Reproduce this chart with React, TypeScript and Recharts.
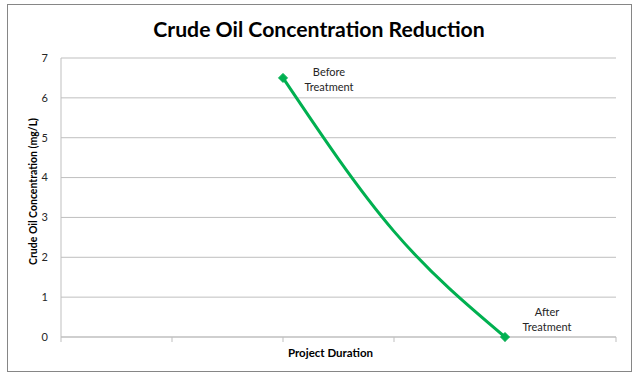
import { LineChart, Line, XAxis, YAxis, CartesianGrid, LabelList, Label } from "recharts";

// six evenly spaced periods on the duration axis; only three carry values
const periods = ["P1", "P2", "P3", "P4", "P5", "P6"];
const concentration = [null, null, 6.5, 2.65, 0, null];
const pointNotes = ["", "", "Before\nTreatment", "", "After\nTreatment", ""];
const hasMarker = [false, false, true, false, true, false];
const yTicks = [0, 1, 2, 3, 4, 5, 6, 7];

const data = periods.map((p, i) => ({
  period: p,
  conc: concentration[i],
  note: pointNotes[i],
  marker: hasMarker[i],
}));

const FONT = "Lato, 'Open Sans', sans-serif";
const GREEN = "#00b050";
const GRID = "#bfbfbf";

const Diamond = (props: any) => {
  const { cx, cy, index, payload } = props;
  if (!payload || !payload.marker || cx == null || cy == null) return <g key={`d-${index}`} />;
  const s = 4.5;
  return (
    <polygon
      key={`d-${index}`}
      points={`${cx},${cy - s} ${cx + s},${cy} ${cx},${cy + s} ${cx - s},${cy}`}
      fill={GREEN}
      stroke={GREEN}
    />
  );
};

const NoteLabel = (props: any) => {
  const { x, y, value, index } = props;
  if (!value || x == null || y == null) return null;
  const lines = String(value).split("\n");
  // Before sits beside the marker, After sits above it
  const dx = index === 2 ? 46 : 42;
  const dy = index === 2 ? -2 : -21;
  return (
    <text x={x + dx} y={y + dy} textAnchor="middle" fontFamily={FONT} fontSize={11} fill="#262626">
      {lines.map((l, i) => (
        <tspan key={i} x={x + dx} dy={i === 0 ? 0 : 15}>
          {l}
        </tspan>
      ))}
    </text>
  );
};

export default function App() {
  return (
    <div style={{ position: "absolute", left: 0, top: 0, width: 642, height: 379, background: "#fff" }}>
      <div
        style={{
          position: "absolute",
          left: 7,
          top: 4,
          width: 625,
          height: 368,
          border: "1px solid #868686",
          boxSizing: "border-box",
        }}
      />
      <div
        style={{
          position: "absolute",
          left: 0,
          top: 16,
          width: 638,
          textAlign: "center",
          fontFamily: FONT,
          fontWeight: 700,
          fontSize: 21.2,
          color: "#000",
        }}
      >
        Crude Oil Concentration Reduction
      </div>
      <div style={{ position: "absolute", left: 0, top: 0 }}>
        <LineChart width={642} height={379} data={data} margin={{ top: 58, right: 26, bottom: 0, left: 0 }}>
          <CartesianGrid vertical={false} stroke={GRID} strokeWidth={1} />
          <XAxis
            dataKey="period"
            height={42}
            tickFormatter={() => ""}
            axisLine={{ stroke: GRID }}
            tickLine={{ stroke: GRID }}
            tickSize={5}
          >
            <Label
              content={(p: any) => {
                const vb = p.viewBox || {};
                return (
                  <text
                    x={vb.x + vb.width / 2 - 8}
                    y={vb.y + 20}
                    textAnchor="middle"
                    fontFamily={FONT}
                    fontWeight={700}
                    fontSize={11.5}
                    fill="#000"
                  >
                    Project Duration
                  </text>
                );
              }}
            />
          </XAxis>
          <YAxis
            width={61}
            domain={[0, 7]}
            ticks={yTicks}
            interval={0}
            axisLine={{ stroke: GRID }}
            tickLine={false}
            tickMargin={7}
            tick={{ fontFamily: FONT, fontSize: 11, fill: "#262626" }}
          >
            <Label
              content={(p: any) => {
                const vb = p.viewBox || {};
                const cy = vb.y + vb.height / 2 - 6;
                return (
                  <text
                    x={33}
                    y={cy}
                    transform={`rotate(-90, 33, ${cy})`}
                    textAnchor="middle"
                    dominantBaseline="central"
                    fontFamily={FONT}
                    fontWeight={700}
                    fontSize={10.5}
                    fill="#000"
                  >
                    Crude Oil Concentration (mg/L)
                  </text>
                );
              }}
            />
          </YAxis>
          <Line
            type="monotone"
            dataKey="conc"
            stroke={GREEN}
            strokeWidth={3}
            dot={Diamond}
            activeDot={false}
            isAnimationActive={false}
          >
            <LabelList dataKey="note" content={NoteLabel} />
          </Line>
        </LineChart>
      </div>
    </div>
  );
}
